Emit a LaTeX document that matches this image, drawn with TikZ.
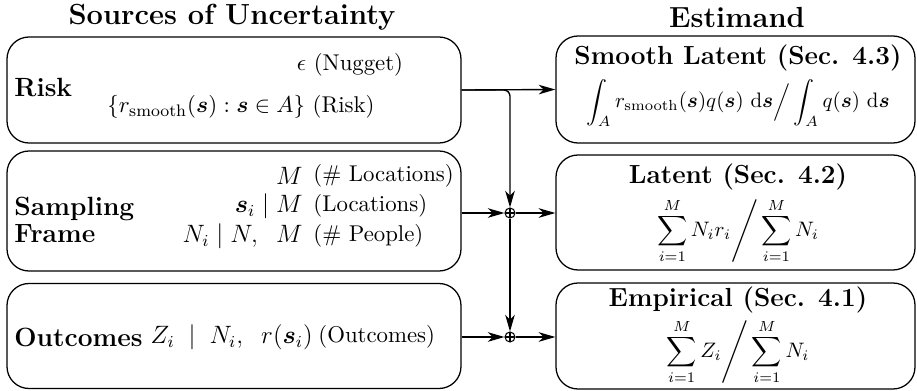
\documentclass[tikz,border=0pt]{standalone}
\usepackage{amsmath,amssymb,bm}
\usetikzlibrary{arrows.meta}
\def\u{0.478pt}
\tikzset{
  box/.style={draw, rounded corners=10.5pt, line width=0.6pt, inner sep=0pt},
  head/.style={inner sep=0pt, font=\fontsize{13.9}{15}\selectfont\bfseries},
  lbl/.style={inner sep=0pt, font=\fontsize{12.6}{12.6}\selectfont\bfseries},
  ttl/.style={inner sep=0pt, font=\fontsize{12.5}{14}\selectfont\bfseries},
  txt/.style={inner sep=0pt, font=\fontsize{10.9}{13}\selectfont},
  mth/.style={inner sep=0pt, font=\fontsize{11.8}{14}\selectfont},
  fml/.style={inner sep=0pt},
  arr/.style={line width=0.65pt, -{Stealth[length=8pt,width=4.6pt,inset=2.4pt]}},
  plus/.style={circle, draw, line width=0.5pt, inner sep=0pt, minimum size=10*\u,
    path picture={\draw[line width=0.5pt] (path picture bounding box.north) -- (path picture bounding box.south)
      (path picture bounding box.west) -- (path picture bounding box.east);}}
}
\begin{document}
\begin{tikzpicture}[x=0.478pt,y=-0.478pt]
\useasboundingbox (0,0) rectangle (917,391);
% headings
\node[head] (h1) at (232,17) {Sources of Uncertainty};
\node[head] (h2) at (737,17) {Estimand};
% left boxes
\node[box, minimum width=454*\u, minimum height=106*\u] (risk) at (234,90) {};
\node[box, minimum width=454*\u, minimum height=120*\u] (samp) at (234,211) {};
\node[box, minimum width=454*\u, minimum height=105*\u] (outc) at (234,336) {};
% right boxes
\node[box, minimum width=359*\u, minimum height=107*\u] (smooth) at (735.5,89.5) {};
\node[box, minimum width=359*\u, minimum height=115*\u] (latent) at (735.5,212.5) {};
\node[box, minimum width=359*\u, minimum height=106*\u] (emp) at (735.5,336) {};
% left texts
\node[lbl, anchor=west] (risklbl) at (14,88) {Risk};
\node[txt] (nug) at (350,65) {$\epsilon$ (Nugget)};
\node[txt] (rsk) at (241,107) {$\{r_{\mathrm{smooth}}(\bm{s}) : \bm{s} \in A\}$ (Risk)};
\node[lbl, anchor=west, align=left] (samplbl) at (14,220) {Sampling\\Frame};
\node[mth, anchor=east] (m1) at (303,176) {$M$};
\node[mth, anchor=east] (m2) at (303,206) {$\bm{s}_i \mid M$};
\node[mth, anchor=east] (m3) at (303,236) {$N_i \mid N,\;\; M$};
\node[txt, anchor=west] (s1) at (313,176) {(\# Locations)};
\node[txt, anchor=west] (s2) at (313,206) {(Locations)};
\node[txt, anchor=west] (s3) at (313,236) {(\# People)};
\node[lbl, anchor=west] (outlbl) at (14,337) {Outcomes};
\node[mth, anchor=east] (m4) at (313,337) {$Z_i \;\mid\; N_i,\;\; r(\bm{s}_i)$};
\node[txt, anchor=west] (s4) at (318,337) {(Outcomes)};
% right texts
\node[ttl] (t1) at (738,58) {Smooth Latent (Sec. 4.3)};
\node[fml] (f1) at (738,103) {$\displaystyle \int_A r_{\mathrm{smooth}}(\bm{s}) q(\bm{s})\ \mathrm{d}\bm{s} \Big/ \int_A q(\bm{s})\ \mathrm{d}\bm{s}$};
\node[ttl] (t2) at (738,177) {Latent (Sec. 4.2)};
\node[fml] (f2) at (738,231) {$\displaystyle \sum_{i=1}^{M} N_i r_i \Bigg/ \sum_{i=1}^{M} N_i$};
\node[ttl] (t3) at (738,300) {Empirical (Sec. 4.1)};
\node[fml] (f3) at (738,352) {$\displaystyle \sum_{i=1}^{M} Z_i \Bigg/ \sum_{i=1}^{M} N_i$};
% junctions
\node[plus] (op1) at (510,213) {};
\node[plus] (op2) at (510,337) {};
\coordinate (bend) at (510,90);
% connectors
\draw[arr] (risk.east) -- (smooth.west);
\draw[arr, rounded corners=3pt] (risk.east) -- (bend) -- (op1.north);
\draw[arr] (samp.east |- op1) -- (op1.west);
\draw[arr] (op1.east) -- (latent.west |- op1);
\draw[arr] (op1.south) -- (op2.north);
\draw[arr] (outc.east |- op2) -- (op2.west);
\draw[arr] (op2.east) -- (emp.west |- op2);
\end{tikzpicture}
\end{document}
